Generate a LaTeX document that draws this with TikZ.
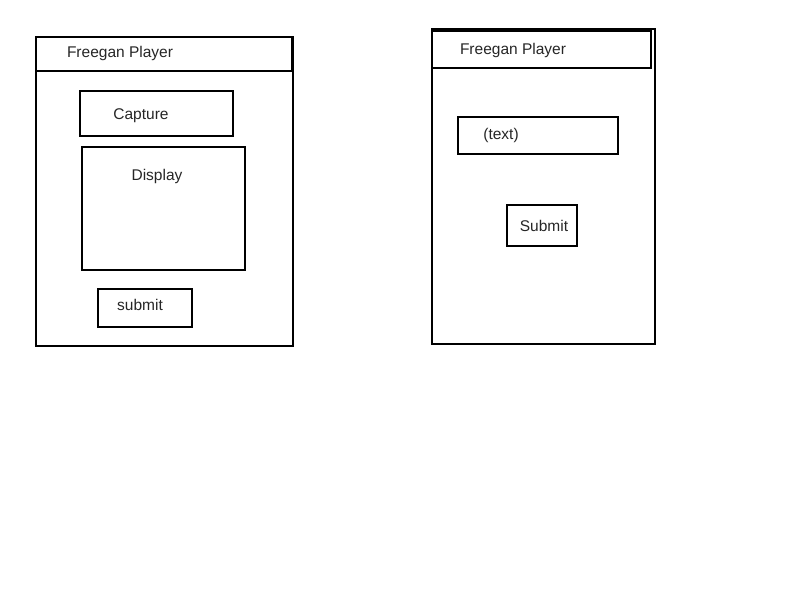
\documentclass[tikz,border=0pt]{standalone}
\usepackage{fontspec}
\setmainfont{Liberation Sans}
\begin{document}
\begin{tikzpicture}[x=1pt,y=-1pt,
  box/.style={draw=black,line width=2pt},
  lbl/.style={font=\fontsize{15.5}{18}\selectfont,text=black!85,inner sep=0pt}]
\useasboundingbox[fill=white] (0,0) rectangle (800,600);
% left frame
\draw[box] (36,37) rectangle (293,346);
\draw[box] (36,37) rectangle (292,71);
\node[lbl] (t1) at (120,53.5) {Freegan Player};
\draw[box] (80,91) rectangle (233,136);
\node[lbl] (cap) at (141,115.5) {Capture};
\draw[box] (82,147) rectangle (245,270);
\node[lbl] (disp) at (157,176.5) {Display};
\draw[box] (98,289) rectangle (192,327);
\node[lbl] (sub1) at (140,304.5) {submit};
% right frame
\draw[box] (432,29) rectangle (655,344);
\draw[box] (432,31) rectangle (651,68);
\node[lbl] (t2) at (513,50.5) {Freegan Player};
\draw[box] (458,117) rectangle (618,154);
\node[lbl] (txt) at (501,135.5) {(text)};
\draw[box] (507,205) rectangle (577,246);
\node[lbl] (sub2) at (544,226) {Submit};
\end{tikzpicture}
\end{document}
